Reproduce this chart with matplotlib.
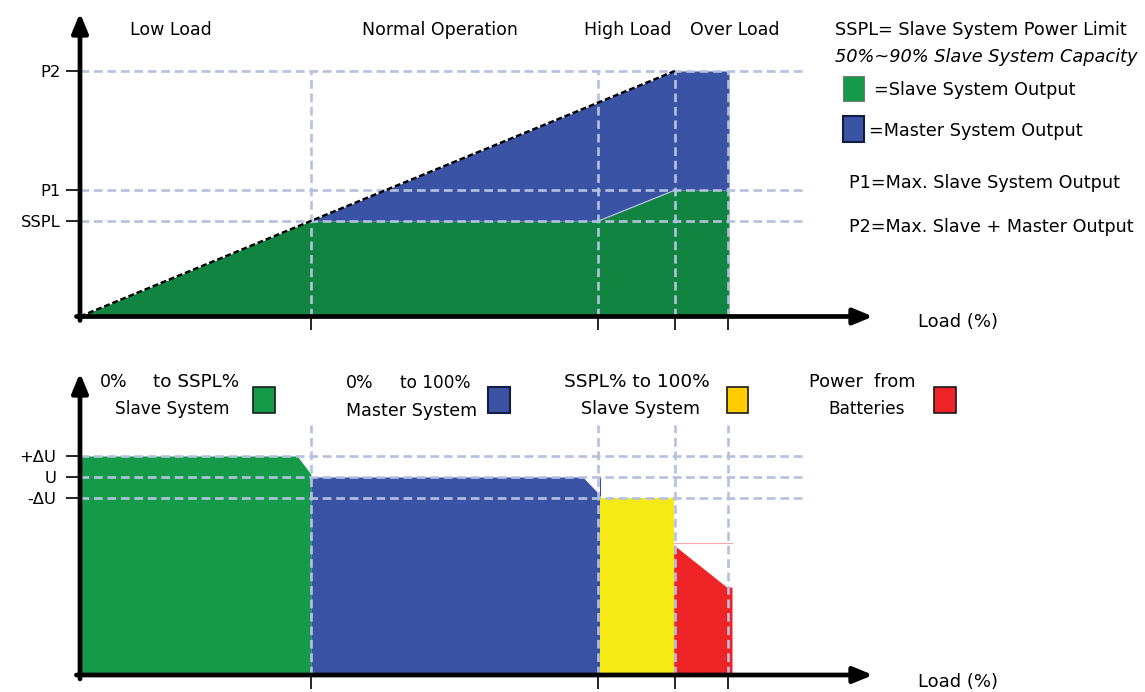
import matplotlib
matplotlib.use('Agg')
import matplotlib.pyplot as plt
from matplotlib.patches import Rectangle

W, H = 1145, 692
plt.rcParams['font.family'] = ['DejaVu Sans']

# ---------------- data ----------------
phase_names = ['Low Load', 'Normal Operation', 'High Load', 'Over Load']
load_bounds = [38.8, 87.1, 100.0, 108.9]          # load % at phase boundaries
power_levels = [38.9, 51.5, 100.0]
power_labels = ['SSPL', 'P1', 'P2']
top_load = [0, 38.8, 87.1, 100.0, 109.1]
slave_out = [0, 38.9, 38.9, 51.5, 51.5]
total_out = [0, 38.9, 87.1, 100.0, 100.0]

volt_levels = [89.4, 100.0, 110.6]
volt_labels = ['-ΔU', 'U', '+ΔU']
green_load = [0, 36.5, 38.8]
green_v = [110.6, 110.6, 101.5]
blue_load = [38.8, 84.5, 87.4]
blue_v = [100.0, 100.0, 90.9]
yellow_load = [87.4, 99.8]
yellow_v = [89.4, 89.4]
red_load = [99.8, 108.7, 109.6]
red_v = [65.7, 44.4, 44.4]
red_ref = 66.5

# ---------------- style ----------------
GRID = '#b4c1df'
GREEN_D = '#128441'
GREEN_L = '#149a48'
BLUE = '#3a53a4'
YELLOW = '#f5ea16'
RED = '#ee2427'
DASH = dict(color=GRID, lw=1.9, dashes=(3.3, 1.8), zorder=3)

fig = plt.figure(figsize=(W / 100, H / 100), dpi=100)
fig.patch.set_facecolor('white')


def fx(x):
    return x / W


def fy(y):
    return 1 - y / H


def ft(x, y, s, **kw):
    kw.setdefault('fontsize', 12)
    kw.setdefault('va', 'center')
    fig.text(fx(x), fy(y), s, **kw)


def swatch(x0, y0, x1, y1, fc, ec, lw):
    fig.patches.append(Rectangle((fx(x0), fy(y1)), (x1 - x0) / W, (y1 - y0) / H,
                                 transform=fig.transFigure, fc=fc, ec=ec, lw=lw))


def axis_arrows(ax):
    ap = dict(arrowstyle='-|>,head_length=0.58,head_width=0.24', lw=3.4, color='k',
              shrinkA=0, shrinkB=0, mutation_scale=20)
    ax.annotate('', xy=(0, 1), xytext=(0, -0.013), xycoords='axes fraction',
                arrowprops=ap, zorder=10)
    ax.annotate('', xy=(1, 0), xytext=(-0.0045, 0), xycoords='axes fraction',
                arrowprops=ap, zorder=10)


def clean(ax):
    for s in ax.spines.values():
        s.set_visible(False)
    ax.patch.set_visible(False)


# ---------------- top panel ----------------
ax1 = fig.add_axes([fx(80), fy(316.5), 793 / W, (316.5 - 13) / H])
clean(ax1)
ax1.set_xlim(0, 133.3)
ax1.set_ylim(0, 123.6)
ax1.fill_between(top_load, 0, slave_out, color=GREEN_D, lw=0, zorder=1)
ax1.fill_between(top_load, slave_out, total_out, color=BLUE, lw=0, zorder=1)
ax1.plot(top_load[2:4], slave_out[2:4], color='#d8e0f0', lw=0.6, zorder=2)
for lv in power_levels:
    ax1.plot([0, 121.8], [lv, lv], **DASH)
for b in load_bounds:
    ax1.plot([b, b], [0, power_levels[-1]], **DASH)
ax1.plot(top_load[:4], total_out[:4], color='k', lw=1.7, dashes=(2.5, 1.2), zorder=4)
ax1.set_xticks(load_bounds)
ax1.set_xticklabels([])
ax1.set_yticks(power_levels)
ax1.set_yticklabels(power_labels)
ax1.tick_params(axis='x', length=9.5, width=1.2, direction='out')
ax1.tick_params(axis='y', length=10, width=1.2, direction='out', pad=4, labelsize=11.8)
axis_arrows(ax1)

# ---------------- bottom panel ----------------
ax2 = fig.add_axes([fx(80), fy(675), 793 / W, (675 - 373) / H])
clean(ax2)
ax2.set_xlim(0, 133.3)
ax2.set_ylim(0, 152.5)
ax2.fill_between(green_load, 0, green_v, color=GREEN_L, lw=0, zorder=1)
ax2.fill_between(blue_load, 0, blue_v, color=BLUE, lw=0, zorder=1)
ax2.plot([blue_load[-1], blue_load[-1]], [blue_v[-1], blue_v[0]], color=BLUE, lw=0.8, zorder=1)
ax2.fill_between(yellow_load, 0, yellow_v, color=YELLOW, lw=0, zorder=1)
ax2.fill_between(red_load, 0, red_v, color=RED, lw=0, zorder=1)
ax2.plot([red_load[0], red_load[-1]], [red_ref, red_ref], color='#f7a8a8', lw=0.8, zorder=1)
for lv in volt_levels:
    ax2.plot([0, 121.8], [lv, lv], **DASH)
for b in load_bounds:
    ax2.plot([b, b], [0, 126.3], **DASH)
ax2.set_xticks(load_bounds)
ax2.set_xticklabels([])
ax2.set_yticks(volt_levels)
ax2.set_yticklabels(volt_labels)
ax2.tick_params(axis='x', length=10, width=1.2, direction='out')
ax2.tick_params(axis='y', length=10, width=1.2, direction='out', pad=7, labelsize=11.8)
axis_arrows(ax2)

# ---------------- texts ----------------
for name, cx in zip(phase_names, [171, 440, 628, 735]):
    ft(cx, 30, name, ha='center', fontsize=12.5)

ft(835, 30, 'SSPL= Slave System Power Limit', fontsize=12.7)
ft(835, 57, '50%~90% Slave System Capacity', style='italic', fontsize=12.8)
swatch(843, 76, 864, 101, GREEN_L, '#7a7a7a', 0.8)
ft(874, 90, '=Slave System Output', fontsize=12.7)
swatch(843, 116, 864, 142, BLUE, '#141c40', 1.5)
ft(869, 131, '=Master System Output', fontsize=12.7)
ft(849, 183, 'P1=Max. Slave System Output', fontsize=12.7)
ft(849, 227, 'P2=Max. Slave + Master Output', fontsize=12.6)
ft(918, 322, 'Load (%)', fontsize=13)
ft(918, 682, 'Load (%)', fontsize=13)

ft(100, 382, '0%', fontsize=12.5)
ft(153, 382, 'to SSPL%', fontsize=13.2)
ft(115, 409, 'Slave System', fontsize=12.2)
swatch(253, 387, 275, 413, GREEN_L, '#1a1a1a', 1.2)

ft(346, 383, '0%', fontsize=12.5)
ft(400, 383, 'to 100%', fontsize=12.2)
ft(346, 411, 'Master System', fontsize=12.6)
swatch(488, 387, 510, 413, BLUE, '#141c40', 1.5)

ft(564, 382, 'SSPL% to 100%', fontsize=13.3)
ft(581, 409, 'Slave System', fontsize=12.6)
swatch(727, 387, 748, 413, '#ffcc00', '#1a1a1a', 1.2)

ft(809, 382, 'Power  from', fontsize=12.8)
ft(828, 409, 'Batteries', fontsize=12.2)
swatch(934, 387, 956, 413, RED, '#1a1a1a', 1.2)

fig.savefig('out.png', dpi=100)
